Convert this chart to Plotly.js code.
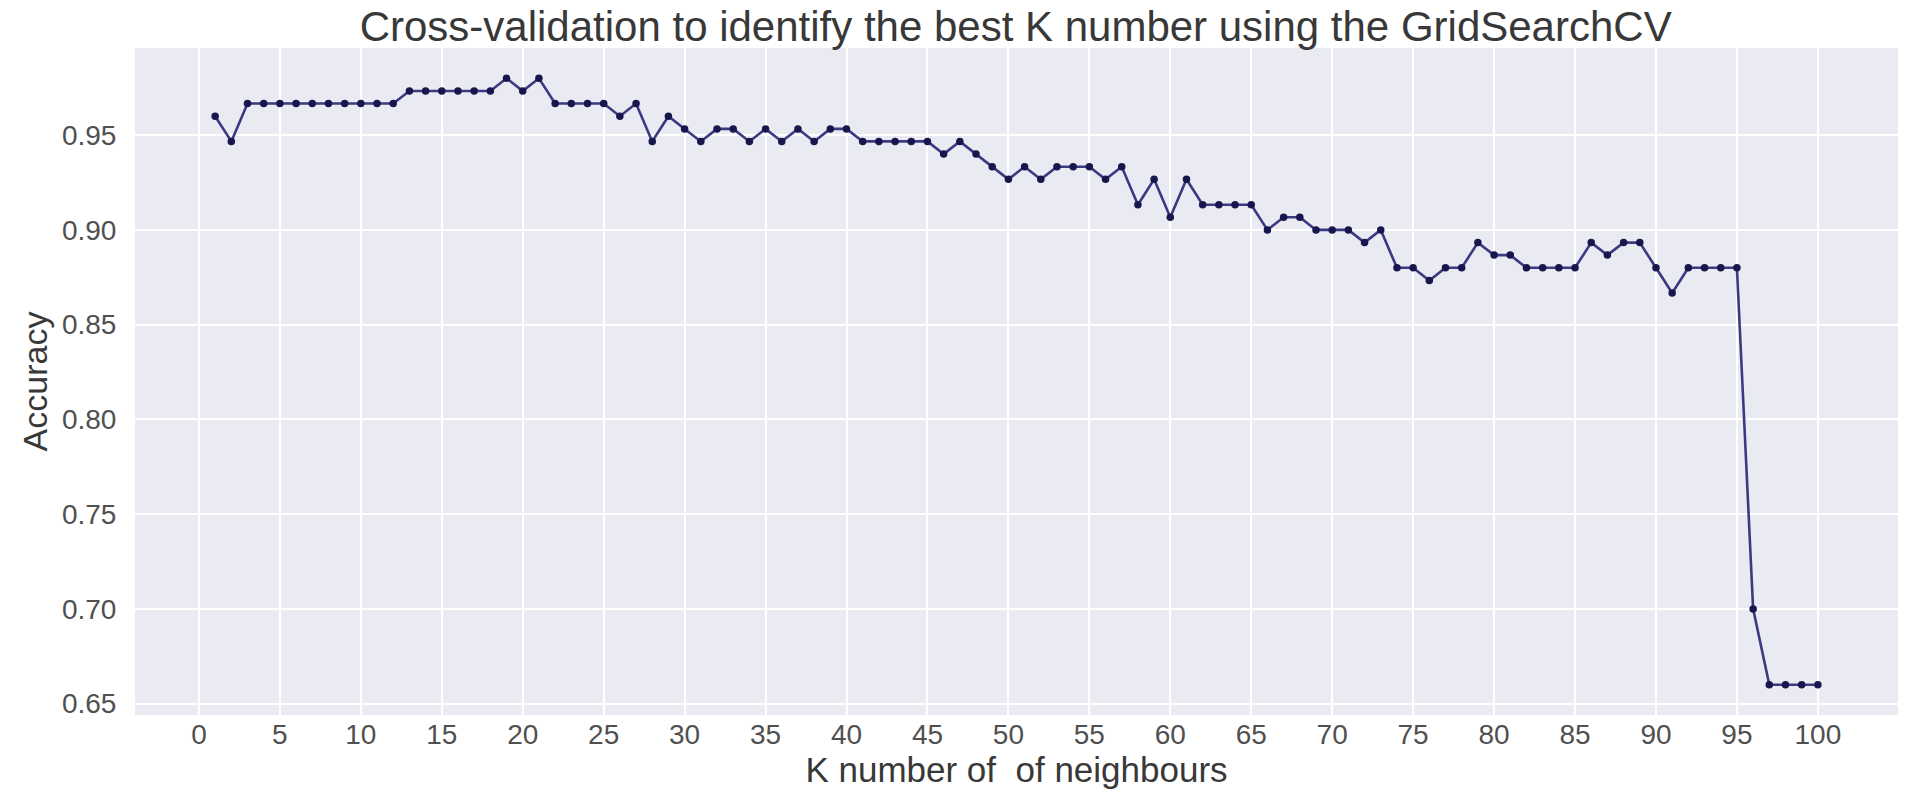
<!DOCTYPE html>
<html>
<head>
<meta charset="utf-8">
<script src="https://cdn.plot.ly/plotly-3.0.1.min.js"></script>
<style>
  html, body { margin: 0; padding: 0; background: #ffffff; }
  #chart { width: 1920px; height: 795px; }
</style>
</head>
<body>
<div id="chart"></div>
<script>
// K values (number of neighbours)
const kValues = [
  1, 2, 3, 4, 5, 6, 7, 8, 9, 10,
  11, 12, 13, 14, 15, 16, 17, 18, 19, 20,
  21, 22, 23, 24, 25, 26, 27, 28, 29, 30,
  31, 32, 33, 34, 35, 36, 37, 38, 39, 40,
  41, 42, 43, 44, 45, 46, 47, 48, 49, 50,
  51, 52, 53, 54, 55, 56, 57, 58, 59, 60,
  61, 62, 63, 64, 65, 66, 67, 68, 69, 70,
  71, 72, 73, 74, 75, 76, 77, 78, 79, 80,
  81, 82, 83, 84, 85, 86, 87, 88, 89, 90,
  91, 92, 93, 94, 95, 96, 97, 98, 99, 100
];

// Mean cross-validated accuracy for each K
const accuracy = [
  0.9600, 0.9467, 0.9667, 0.9667, 0.9667, 0.9667, 0.9667, 0.9667, 0.9667, 0.9667,
  0.9667, 0.9667, 0.9733, 0.9733, 0.9733, 0.9733, 0.9733, 0.9733, 0.9800, 0.9733,
  0.9800, 0.9667, 0.9667, 0.9667, 0.9667, 0.9600, 0.9667, 0.9467, 0.9600, 0.9533,
  0.9467, 0.9533, 0.9533, 0.9467, 0.9533, 0.9467, 0.9533, 0.9467, 0.9533, 0.9533,
  0.9467, 0.9467, 0.9467, 0.9467, 0.9467, 0.9400, 0.9467, 0.9400, 0.9333, 0.9267,
  0.9333, 0.9267, 0.9333, 0.9333, 0.9333, 0.9267, 0.9333, 0.9133, 0.9267, 0.9067,
  0.9267, 0.9133, 0.9133, 0.9133, 0.9133, 0.9000, 0.9067, 0.9067, 0.9000, 0.9000,
  0.9000, 0.8933, 0.9000, 0.8800, 0.8800, 0.8733, 0.8800, 0.8800, 0.8933, 0.8867,
  0.8867, 0.8800, 0.8800, 0.8800, 0.8800, 0.8933, 0.8867, 0.8933, 0.8933, 0.8800,
  0.8667, 0.8800, 0.8800, 0.8800, 0.8800, 0.7000, 0.6600, 0.6600, 0.6600, 0.6600
];

const xTickValues = [0, 5, 10, 15, 20, 25, 30, 35, 40, 45, 50, 55, 60, 65, 70, 75, 80, 85, 90, 95, 100];
const yTickValues = [0.65, 0.70, 0.75, 0.80, 0.85, 0.90, 0.95];
const yTickLabels = ['0.65', '0.70', '0.75', '0.80', '0.85', '0.90', '0.95'];

const chartTitle = 'Cross-validation to identify the best K number using the GridSearchCV';
const xTitle = 'K number of&nbsp; of neighbours';
const yTitle = 'Accuracy';

const FONT = '"Liberation Sans", Arial, Helvetica, sans-serif';

const trace = {
  x: kValues,
  y: accuracy,
  type: 'scatter',
  mode: 'lines+markers',
  line: { color: '#3a3a82', width: 2.6 },
  marker: { color: '#17174d', size: 7.5 },
  hoverinfo: 'x+y'
};

const layout = {
  width: 1920,
  height: 795,
  paper_bgcolor: '#ffffff',
  plot_bgcolor: '#eaeaf2',
  margin: { l: 135, r: 22, t: 48, b: 80, pad: 0 },
  showlegend: false,
  title: {
    text: chartTitle,
    font: { family: FONT, size: 42, color: '#383838' },
    x: 0.529, xanchor: 'center',
    y: 0.9665, yanchor: 'middle'
  },
  xaxis: {
    range: [-3.95, 104.95],
    tickmode: 'array',
    tickvals: xTickValues,
    ticktext: xTickValues.map(String),
    ticks: '',
    tickfont: { family: FONT, size: 28, color: '#505050' },
    showgrid: true, gridcolor: '#ffffff', gridwidth: 2,
    zeroline: false, showline: false,
    title: { text: xTitle, font: { family: FONT, size: 35, color: '#383838' }, standoff: 8 }
  },
  yaxis: {
    range: [0.644, 0.996],
    tickmode: 'array',
    tickvals: yTickValues,
    ticktext: yTickLabels,
    ticks: 'outside', ticklen: 12, tickcolor: 'rgba(0,0,0,0)',
    tickfont: { family: FONT, size: 28, color: '#505050' },
    showgrid: true, gridcolor: '#ffffff', gridwidth: 2,
    zeroline: false, showline: false,
    title: { text: yTitle, font: { family: FONT, size: 34, color: '#383838' }, standoff: 4 }
  }
};

Plotly.newPlot('chart', [trace], layout, { displayModeBar: false, staticPlot: true });
</script>
</body>
</html>
